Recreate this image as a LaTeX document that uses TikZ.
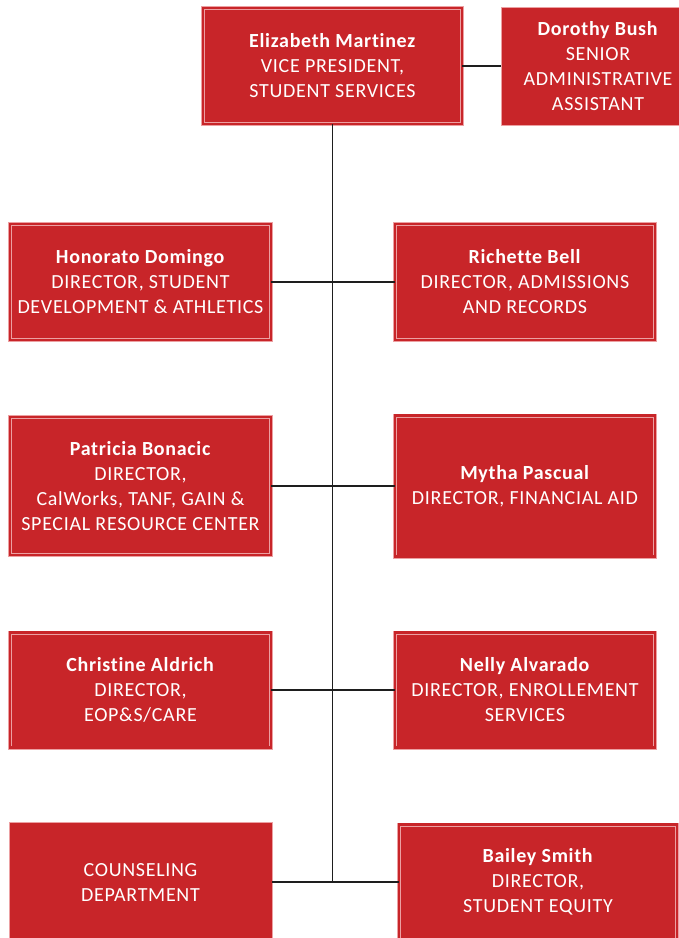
\documentclass[tikz,border=0pt]{standalone}
\usepackage{fontspec}
\setmainfont{Carlito}[Ligatures=NoCommon, LetterSpace=3.5]
\begin{document}
\begin{tikzpicture}[x=1pt,y=-1pt,
  every node/.style={inner sep=0pt, outer sep=0pt},
  orgbox/.style={rectangle, fill=boxred, draw=boxline, double=boxred, double distance=2.6pt, line width=0.7pt, text=white, align=center, font=\fontsize{20}{25}\selectfont},
  plainbox/.style={rectangle, fill=boxred, draw=boxline, line width=0.8pt, text=white, align=center, font=\fontsize{20}{25}\selectfont},
  link/.style={draw=linegray, line width=1.6pt}]
\definecolor{boxred}{RGB}{200,37,41}
\definecolor{boxline}{RGB}{236,160,162}
\definecolor{linegray}{RGB}{30,30,30}
\useasboundingbox (0,0) rectangle (679,938);
\clip (0,0) rectangle (679,938);
\node[orgbox, minimum width=259pt, minimum height=116pt] (eliz) at (332.5,66) {\textbf{Elizabeth Martinez}\\VICE PRESIDENT,\\STUDENT SERVICES};
\node[plainbox, minimum width=194pt, minimum height=118pt] (doro) at (598,66) {\textbf{Dorothy Bush}\\SENIOR\\ADMINISTRATIVE\\ASSISTANT};
\node[orgbox, minimum width=261pt, minimum height=116pt] (hono) at (140.5,282) {\textbf{Honorato Domingo}\\DIRECTOR, STUDENT\\DEVELOPMENT \& ATHLETICS};
\node[orgbox, minimum width=260pt, minimum height=116pt] (rich) at (525,282) {\textbf{Richette Bell}\\DIRECTOR, ADMISSIONS\\AND RECORDS};
\node[orgbox, minimum width=261pt, minimum height=138pt] (patr) at (140.5,486) {\textbf{Patricia Bonacic}\\DIRECTOR,\\CalWorks, TANF, GAIN \&\\SPECIAL RESOURCE CENTER};
\node[orgbox, minimum width=260pt, minimum height=141pt] (myth) at (525,486) {\textbf{Mytha Pascual}\\DIRECTOR, FINANCIAL AID};
\node[orgbox, minimum width=261pt, minimum height=115pt] (chri) at (140.5,690) {\textbf{Christine Aldrich}\\DIRECTOR,\\EOP\&S/CARE};
\node[orgbox, minimum width=260pt, minimum height=115pt] (nell) at (525,690) {\textbf{Nelly Alvarado}\\DIRECTOR, ENROLLEMENT\\SERVICES};
\node[plainbox, minimum width=263pt, minimum height=120pt] (coun) at (140.5,882) {COUNSELING\\DEPARTMENT};
\node[orgbox, minimum width=278pt, minimum height=115pt] (bail) at (538,882) {\textbf{Bailey Smith}\\DIRECTOR,\\STUDENT EQUITY};
\coordinate (bottom) at (eliz.south |- coun.east);
\draw[link] (eliz.east) -- (doro.west);
\draw[link] (eliz.south) -- (bottom);
\draw[link] (hono.east) -- (rich.west);
\draw[link] (patr.east) -- (myth.west);
\draw[link] (chri.east) -- (nell.west);
\draw[link] (coun.east) -- (bail.west);
\end{tikzpicture}
\end{document}
